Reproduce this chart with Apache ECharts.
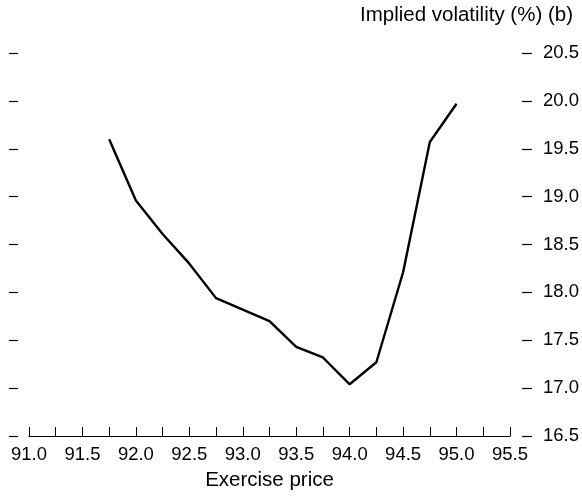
<!DOCTYPE html>
<html><head><meta charset="utf-8">
<script src="https://cdn.jsdelivr.net/npm/echarts@6/dist/echarts.min.js"></script>
<style>html,body{margin:0;padding:0;background:#fff}#c{width:582px;height:496px}</style>
</head><body><div id="c"></div>
<script>
var exercisePrice = [91.75, 92.0, 92.25, 92.5, 92.75, 93.25, 93.5, 93.75, 94.0, 94.25, 94.5, 94.75, 95.0];
var impliedVol = [19.60, 18.96, 18.61, 18.30, 17.94, 17.70, 17.43, 17.32, 17.04, 17.27, 18.21, 19.57, 19.97];
var xTitle = 'Exercise price';
var yTitle = 'Implied volatility (%) (b)';

var font = 'Liberation Sans, Arial, Helvetica, sans-serif';
var chart = echarts.init(document.getElementById('c'), null, {renderer: 'canvas'});
var data = exercisePrice.map(function (x, i) { return [x, impliedVol[i]]; });
chart.setOption({
  animation: false,
  title: {text: yTitle, right: 4, top: 0, textStyle: {fontFamily: font, fontSize: 20.5, fontWeight: 'normal', color: '#000'}},
  grid: {left: 29, right: 71, top: 53, bottom: 60},
  xAxis: {
    type: 'value', min: 91, max: 95.5, interval: 0.25,
    name: xTitle, nameLocation: 'middle', nameGap: 34,
    nameTextStyle: {fontFamily: font, fontSize: 20.5, color: '#000'},
    axisLine: {lineStyle: {color: '#000', width: 1}},
    axisTick: {inside: true, length: 9, lineStyle: {color: '#000', width: 1}},
    axisLabel: {fontFamily: font, fontSize: 18.5, color: '#000', margin: 9,
      formatter: function (v) { return Math.abs(v * 2 - Math.round(v * 2)) < 1e-6 ? v.toFixed(1) : ''; }},
    splitLine: {show: false}
  },
  yAxis: [{
    type: 'value', min: 16.5, max: 20.5, interval: 0.5, position: 'left', offset: 11,
    axisLine: {show: false},
    axisTick: {show: true, length: 9, lineStyle: {color: '#000', width: 1.2}},
    axisLabel: {show: false},
    splitLine: {show: false}
  }, {
    type: 'value', min: 16.5, max: 20.5, interval: 0.5, position: 'right', offset: 12,
    axisLine: {show: false},
    axisTick: {show: true, length: 10, lineStyle: {color: '#000', width: 1.2}},
    axisLabel: {fontFamily: font, fontSize: 18.5, color: '#000', margin: 21,
      formatter: function (v) { return v.toFixed(1); }},
    splitLine: {show: false}
  }],
  series: [{
    type: 'line', data: data, yAxisIndex: 1, showSymbol: false,
    lineStyle: {color: '#000', width: 2.4}
  }]
});
</script></body></html>
